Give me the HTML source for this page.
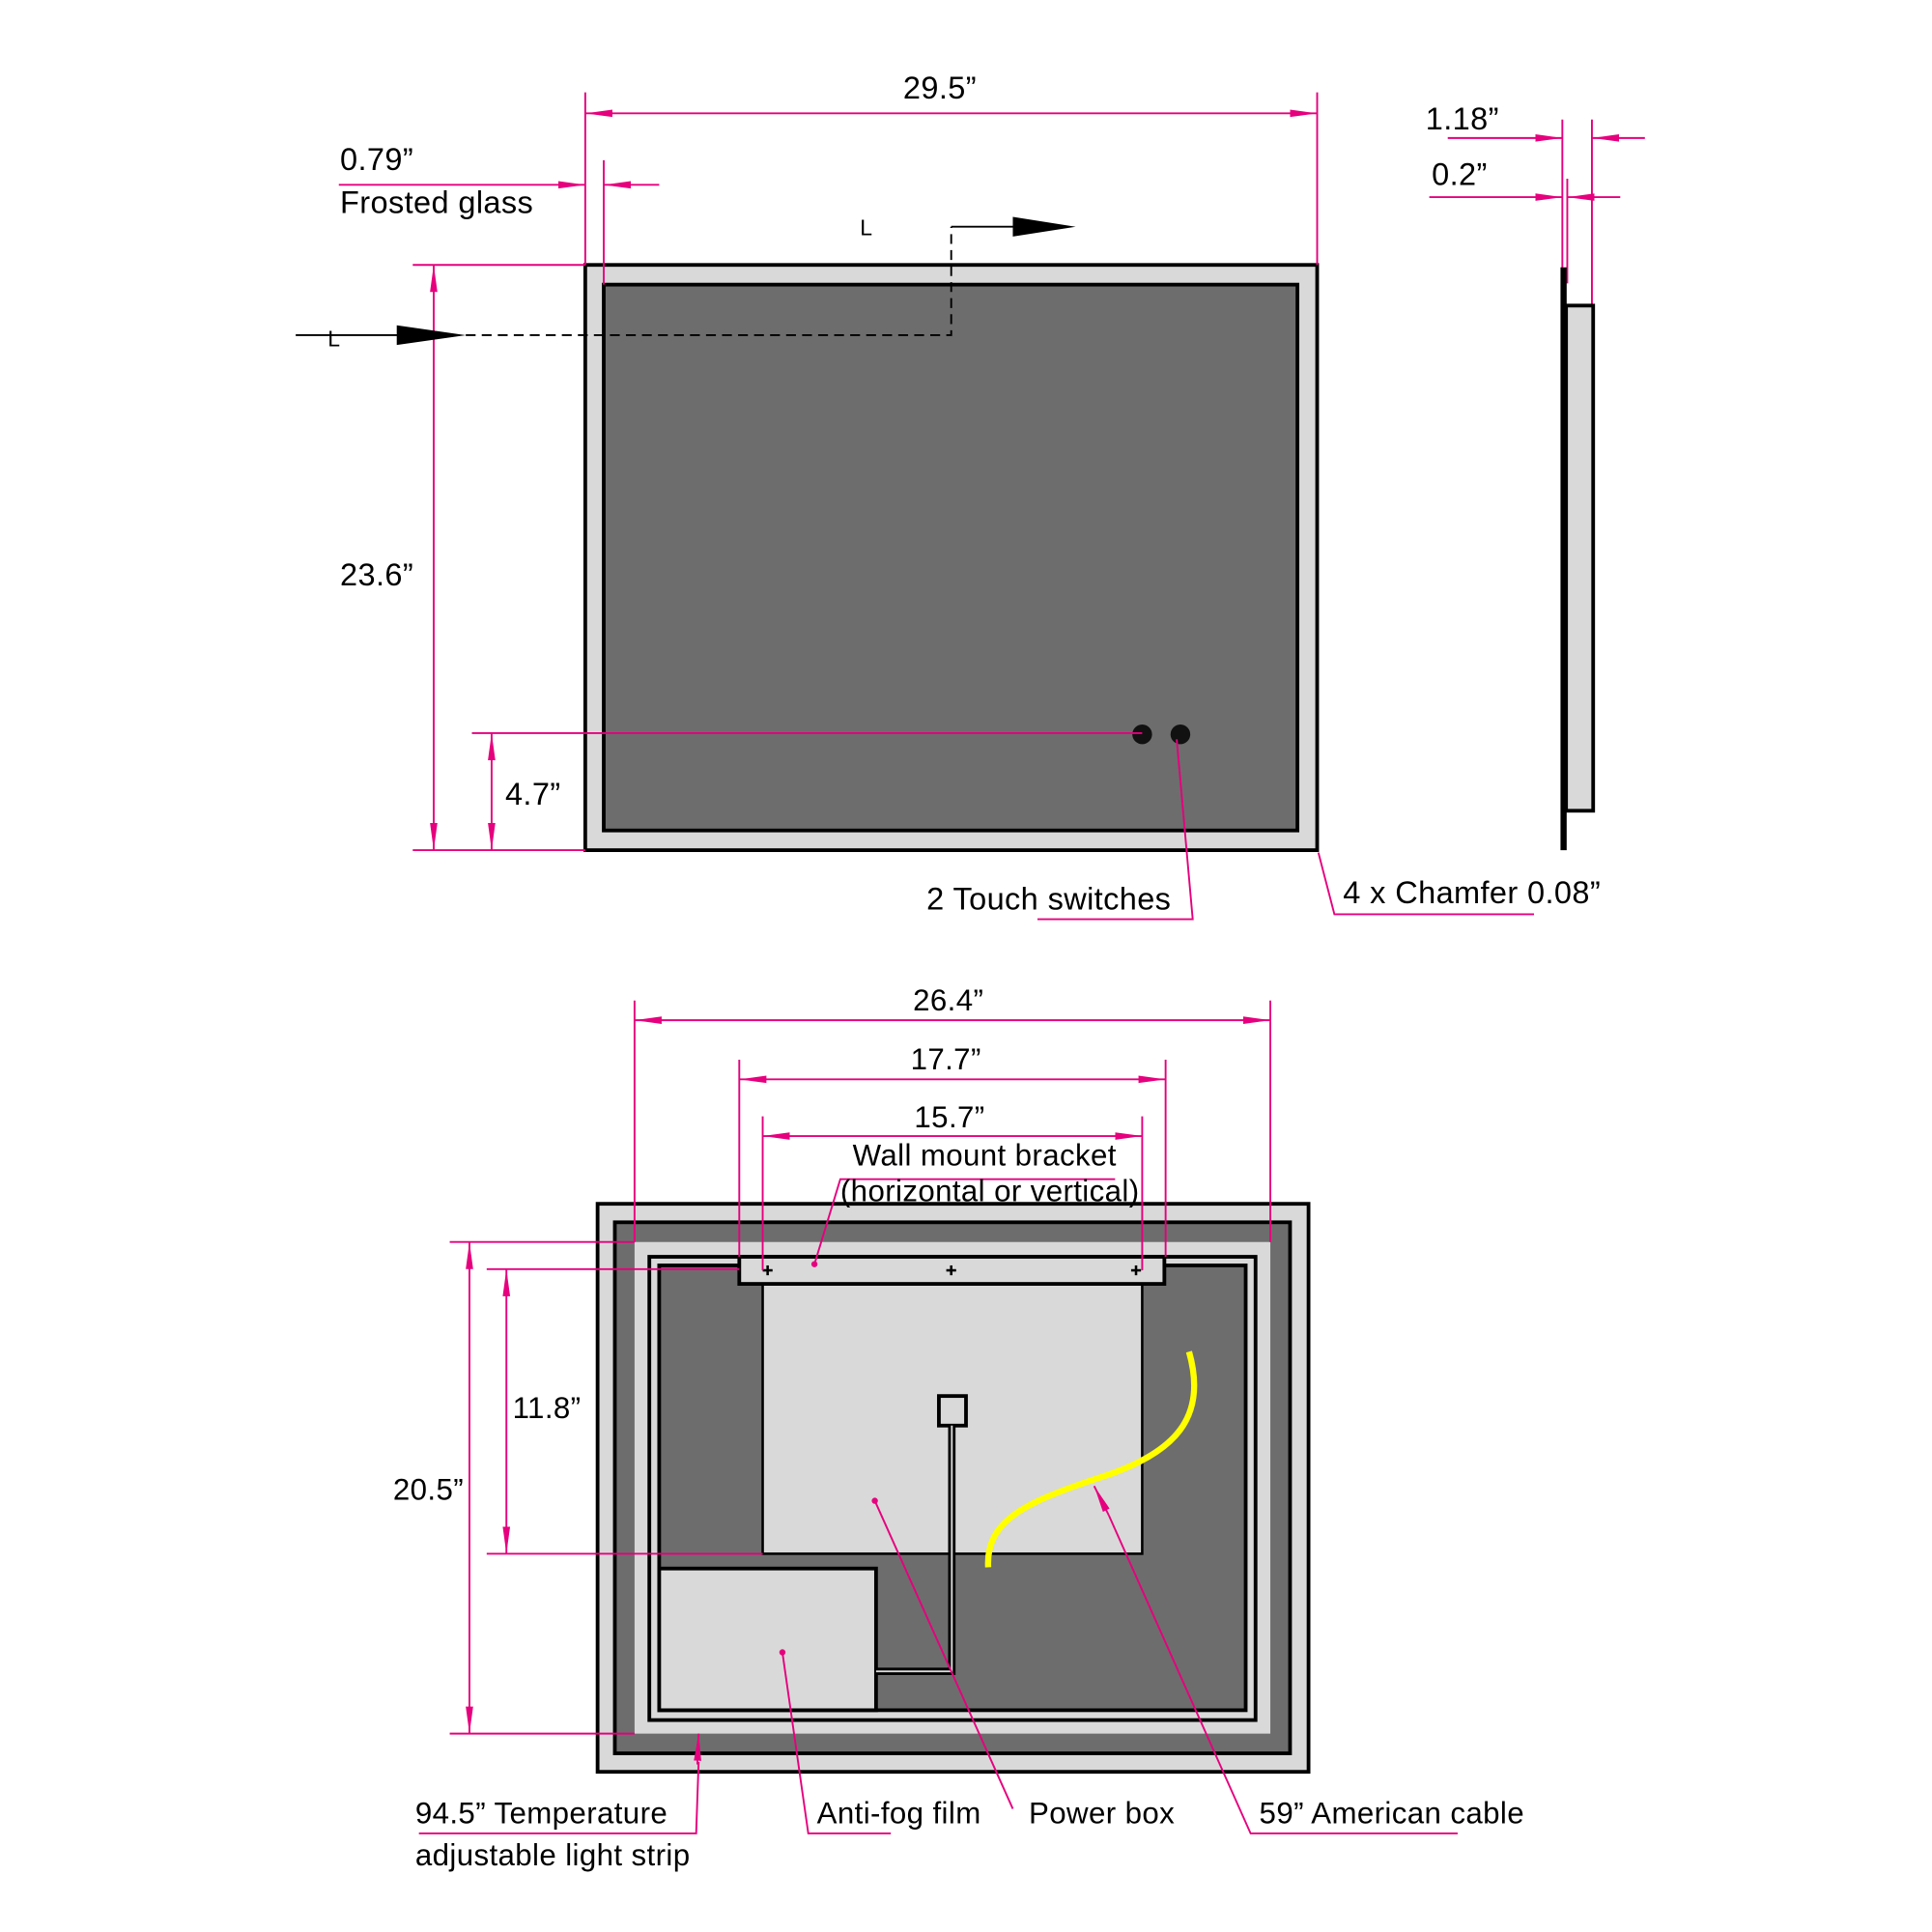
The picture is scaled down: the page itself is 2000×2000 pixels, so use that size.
<!DOCTYPE html>
<html><head><meta charset="utf-8"><style>
html,body{margin:0;padding:0;background:#fff;}
svg{display:block;}
text{font-family:"Liberation Sans",Arial,sans-serif;fill:#000;}
</style></head><body>
<svg width="2000" height="2000" viewBox="0 0 1568 1568" xmlns="http://www.w3.org/2000/svg">
<defs>
<marker id="a" viewBox="0 0 22 8" refX="22" refY="4" markerWidth="22" markerHeight="8" markerUnits="userSpaceOnUse" orient="auto-start-reverse"><path d="M0,1 L22,4 L0,7 Z" fill="#e6007e"/></marker>
</defs>
<rect width="1568" height="1568" fill="#fff"/>
<!-- TOP MIRROR -->
<rect x="475" y="215" width="594" height="475" fill="#d9d9d9" stroke="#000" stroke-width="3"/>
<rect x="490" y="231" width="563" height="443" fill="#6d6d6d" stroke="#000" stroke-width="3"/>
<circle cx="927" cy="596" r="8" fill="#111"/>
<circle cx="958" cy="596" r="8" fill="#111"/>
<g stroke="#e6007e" stroke-width="1.5" fill="none">
<line x1="475" y1="75" x2="475" y2="215"/><line x1="1069" y1="75" x2="1069" y2="215"/>
<line x1="475" y1="92" x2="1069" y2="92" marker-start="url(#a)" marker-end="url(#a)"/>
<line x1="490" y1="130" x2="490" y2="231"/>
<line x1="275" y1="150" x2="475" y2="150" marker-end="url(#a)"/>
<line x1="535" y1="150" x2="490" y2="150" marker-end="url(#a)"/>
<line x1="335" y1="215" x2="475" y2="215"/><line x1="335" y1="690" x2="475" y2="690"/>
<line x1="352" y1="215" x2="352" y2="690" marker-start="url(#a)" marker-end="url(#a)"/>
<line x1="383" y1="595" x2="927" y2="595"/>
<line x1="399" y1="595" x2="399" y2="690" marker-start="url(#a)" marker-end="url(#a)"/>
<polyline points="842,746 968,746 955,600"/>
<polyline points="1245,742 1083,742 1070,692"/>
<line x1="1268" y1="97" x2="1268" y2="230"/><line x1="1292" y1="97" x2="1292" y2="248"/>
<line x1="1272" y1="145" x2="1272" y2="230"/>
<line x1="1175" y1="112" x2="1268" y2="112" marker-end="url(#a)"/>
<line x1="1335" y1="112" x2="1292" y2="112" marker-end="url(#a)"/>
<line x1="1160" y1="160" x2="1268" y2="160" marker-end="url(#a)"/>
<line x1="1315" y1="160" x2="1272" y2="160" marker-end="url(#a)"/>
</g>
<line x1="240" y1="272" x2="330" y2="272" stroke="#000" stroke-width="1.5"/>
<polygon points="322,264 378,272 322,280" fill="#000"/>
<path d="M378,272 H772 V184" stroke="#000" stroke-width="1.5" fill="none" stroke-dasharray="8,5"/>
<line x1="772" y1="184" x2="825" y2="184" stroke="#000" stroke-width="1.5"/>
<polygon points="822,176 873,184 822,192" fill="#000"/>
<text x="266" y="281" font-size="18">L</text>
<text x="698" y="191" font-size="18">L</text>
<line x1="1269" y1="217" x2="1269" y2="690" stroke="#000" stroke-width="5"/>
<rect x="1271" y="248" width="22" height="410" fill="#d9d9d9" stroke="#000" stroke-width="3"/>
<g font-size="25.5" letter-spacing="0.3">
<text x="733" y="80">29.5”</text>
<text x="276" y="138">0.79”</text>
<text x="276" y="173">Frosted glass</text>
<text x="276" y="475">23.6”</text>
<text x="410" y="653">4.7”</text>
<text x="752" y="738">2 Touch switches</text>
<text x="1090" y="733">4 x Chamfer 0.08”</text>
<text x="1157" y="105">1.18”</text>
<text x="1162" y="150">0.2”</text>
</g>
<!-- BOTTOM -->
<rect x="485" y="977" width="577" height="461" fill="#d9d9d9" stroke="#000" stroke-width="3"/>
<rect x="499" y="992" width="548" height="431" fill="#6d6d6d" stroke="#000" stroke-width="3"/>
<rect x="515" y="1008" width="516" height="399" fill="#d9d9d9"/>
<rect x="527" y="1020" width="492" height="376" fill="#d9d9d9" stroke="#000" stroke-width="3"/>
<rect x="535" y="1027" width="476" height="361" fill="#6d6d6d" stroke="#000" stroke-width="3"/>
<rect x="619" y="1042" width="308" height="219" fill="#d9d9d9" stroke="#000" stroke-width="2"/>
<rect x="535" y="1273" width="176" height="115" fill="#d9d9d9" stroke="#000" stroke-width="3"/>
<rect x="600" y="1020" width="345" height="22" fill="#d9d9d9" stroke="#000" stroke-width="3"/>
<g stroke="#000" stroke-width="2"><line x1="619" y1="1031" x2="627" y2="1031"/><line x1="623" y1="1027" x2="623" y2="1035"/>
<line x1="768" y1="1031" x2="776" y2="1031"/><line x1="772" y1="1027" x2="772" y2="1035"/>
<line x1="918" y1="1031" x2="926" y2="1031"/><line x1="922" y1="1027" x2="922" y2="1035"/></g>
<rect x="762" y="1133" width="22" height="24" fill="#d9d9d9" stroke="#000" stroke-width="3"/>
<path d="M772.5,1157 V1356.5 H711" stroke="#000" stroke-width="6" fill="none"/>
<path d="M772.5,1157 V1356.5 H711" stroke="#d9d9d9" stroke-width="1.5" fill="none"/>
<path d="M965,1097 C980,1150 955,1180 890,1200 C830,1220 800,1235 802,1272" stroke="#ffff00" stroke-width="5" fill="none"/>
<g stroke="#e6007e" stroke-width="1.5" fill="none">
<line x1="515" y1="812" x2="515" y2="1008"/><line x1="1031" y1="812" x2="1031" y2="1008"/>
<line x1="515" y1="828" x2="1031" y2="828" marker-start="url(#a)" marker-end="url(#a)"/>
<line x1="600" y1="860" x2="600" y2="1020"/><line x1="946" y1="860" x2="946" y2="1020"/>
<line x1="600" y1="876" x2="946" y2="876" marker-start="url(#a)" marker-end="url(#a)"/>
<line x1="619" y1="906" x2="619" y2="1031"/><line x1="927" y1="906" x2="927" y2="1031"/>
<line x1="619" y1="922" x2="927" y2="922" marker-start="url(#a)" marker-end="url(#a)"/>
<polyline points="661,1026 682,957 905,957"/>
<line x1="365" y1="1008" x2="515" y2="1008"/><line x1="365" y1="1407" x2="515" y2="1407"/>
<line x1="381" y1="1008" x2="381" y2="1407" marker-start="url(#a)" marker-end="url(#a)"/>
<line x1="395" y1="1030" x2="600" y2="1030"/><line x1="395" y1="1261" x2="619" y2="1261"/>
<line x1="411" y1="1030" x2="411" y2="1261" marker-start="url(#a)" marker-end="url(#a)"/>
<polyline points="340,1488 565,1488 567,1430"/>
<line x1="566" y1="1432" x2="567" y2="1407" marker-end="url(#a)"/>
<polyline points="723,1488 656,1488 635,1341"/>
<line x1="822" y1="1468" x2="710" y2="1218"/>
<polyline points="1183,1488 1015,1488 900,1230"/>
<line x1="900" y1="1230" x2="888" y2="1206" marker-end="url(#a)"/>
</g>
<g fill="#e6007e"><circle cx="661" cy="1026" r="2.5"/><circle cx="635" cy="1341" r="2.5"/><circle cx="710" cy="1218" r="2.5"/></g>
<g font-size="24.5" letter-spacing="0.3">
<text x="741" y="820">26.4”</text>
<text x="739" y="868">17.7”</text>
<text x="742" y="915">15.7”</text>
<text x="692" y="946">Wall mount bracket</text>
<text x="682" y="975">(horizontal or vertical)</text>
<text x="319" y="1217">20.5”</text>
<text x="416" y="1151">11.8”</text>
<text x="337" y="1480">94.5” Temperature</text>
<text x="337" y="1514">adjustable light strip</text>
<text x="663" y="1480">Anti-fog film</text>
<text x="835" y="1480">Power box</text>
<text x="1022" y="1480">59” American cable</text>
</g>
</svg>
</body></html>
